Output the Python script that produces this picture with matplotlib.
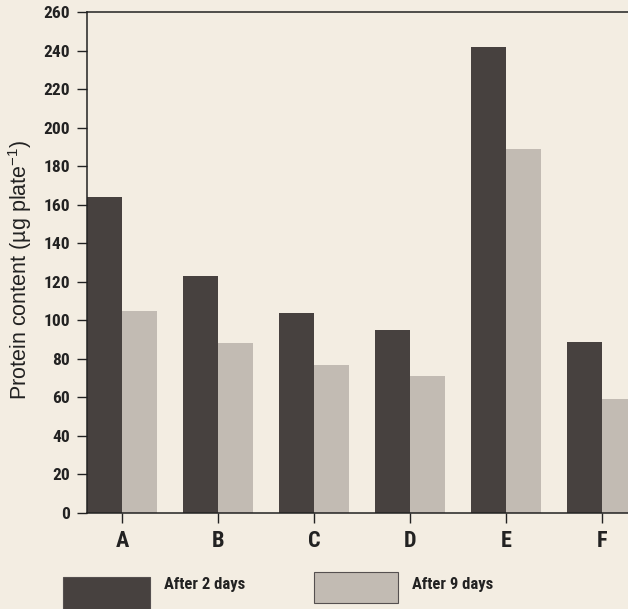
import matplotlib
matplotlib.use('Agg')
import matplotlib.pyplot as plt
from matplotlib.patches import Rectangle
import numpy as np

# --- dados ---
categorias = ['A', 'B', 'C', 'D', 'E', 'F']
apos_2_dias = [164, 123, 104, 95, 242, 89]
apos_9_dias = [105, 88, 77, 71, 189, 59]
ticks_y = list(range(0, 261, 20))

cor_papel = '#f3ede2'
cor_escura = '#47413f'
cor_clara = '#c2bbb3'
fonte_estreita = ['Liberation Sans Narrow', 'Roboto Condensed', 'Liberation Sans']

plt.rcParams['font.family'] = ['Liberation Sans', 'DejaVu Sans']

W, H = 628, 609
fig = plt.figure(figsize=(W / 100, H / 100), dpi=100, facecolor=cor_papel)
ax = fig.add_axes([87 / W, 1 - 513 / H, 1 - 87 / W, (513 - 12) / H])
ax.set_facecolor(cor_papel)

x = np.arange(len(categorias))
largura = 0.365
b1 = ax.bar(x, apos_2_dias, width=-largura, align='edge', color=cor_escura,
            edgecolor='none', label='After 2 days')
b2 = ax.bar(x, apos_9_dias, width=largura, align='edge', color=cor_clara,
            edgecolor='none', label='After 9 days')

ax.set_xlim(-0.3646, 5.27)
ax.set_ylim(0, 260)
ax.set_yticks(ticks_y)
ax.set_xticks(x)
ax.set_xticklabels(categorias)

for lado in ['left', 'bottom', 'top']:
    ax.spines[lado].set_linewidth(1.1)
    ax.spines[lado].set_color('#222222')
ax.spines['right'].set_visible(False)

ax.tick_params(axis='y', direction='out', length=7, width=1, pad=5, colors='#222222')
ax.tick_params(axis='x', direction='out', length=7, width=1, pad=5, colors='#222222')
for t in ax.get_yticklabels():
    t.set_fontfamily(fonte_estreita)
    t.set_fontstretch('condensed')
    t.set_fontweight('bold')
    t.set_fontsize(12.5)
for t in ax.get_xticklabels():
    t.set_fontfamily(fonte_estreita)
    t.set_fontstretch('condensed')
    t.set_fontweight('bold')
    t.set_fontsize(16)

fig.text(20 / W, 1 - 270 / H, r'Protein content (µg plate$^{\mathregular{-1}}$)',
         rotation=90, ha='center', va='center', fontsize=15.5, color='#222222')

# legenda desenhada à mão, como no original (caixas grandes em baixo)
itens_legenda = [(b1, 63, 577, 87, 32), (b2, 314, 572, 84, 31)]
for barras, x0, y0, w, h in itens_legenda:
    cor = barras.patches[0].get_facecolor()
    fig.add_artist(Rectangle((x0 / W, 1 - (y0 + h) / H), w / W, h / H,
                             transform=fig.transFigure, facecolor=cor,
                             edgecolor='#555050', linewidth=0.8))
    fig.text((x0 + w + 14) / W, 1 - 585 / H, barras.get_label(), ha='left', va='center',
             family=fonte_estreita, stretch='condensed', weight='bold', fontsize=12,
             color='#222222')

fig.savefig('out.png', dpi=100, facecolor=cor_papel)
